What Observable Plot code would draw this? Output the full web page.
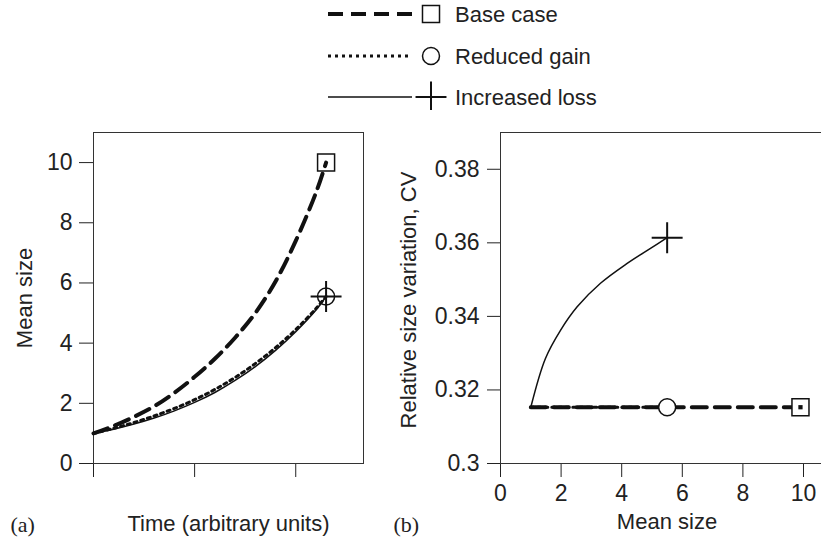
<!DOCTYPE html>
<html><head><meta charset="utf-8">
<script src="https://cdn.jsdelivr.net/npm/d3@7"></script>
<script src="https://cdn.jsdelivr.net/npm/@observablehq/plot@0.6"></script>
<style>
html,body{margin:0;padding:0;background:#fff;}
#wrap{position:relative;width:821px;height:547px;overflow:hidden;background:#fff;}
#wrap > *{position:absolute;}
</style></head><body><div id="wrap"></div>
<script>
// ---- data ----
const seriesNames = ["Base case", "Reduced gain", "Increased loss"];
const timeTicks = [0, 10, 20];
const time = [0, 2, 4, 6, 8, 10, 12, 14, 16, 18, 20, 22, 23];
const baseMean = [1.0, 1.25, 1.55, 1.9, 2.35, 2.88, 3.48, 4.18, 5.0, 6.05, 7.4, 9.0, 10.0];
const gainMean = [1.0, 1.17, 1.36, 1.58, 1.83, 2.12, 2.46, 2.86, 3.32, 3.85, 4.45, 5.15, 5.55];
const lossMean = [1.0, 1.14, 1.31, 1.51, 1.75, 2.03, 2.36, 2.76, 3.22, 3.76, 4.38, 5.1, 5.55];
const sizeTicks = [0, 2, 4, 6, 8, 10];

const baseCVMean = [1.0, 9.9];
const baseCV = [0.3153, 0.3153];
const gainCVMean = [1.0, 5.5];
const gainCV = [0.3153, 0.3153];
const lossCVMean = [1.0, 1.48, 1.98, 2.53, 3.3, 4.18, 4.95, 5.5];
const lossCV = [0.3153, 0.3285, 0.3362, 0.3426, 0.349, 0.3544, 0.3585, 0.3614];
const meanTicks = [0, 2, 4, 6, 8, 10];
const cvTicks = [0.3, 0.32, 0.34, 0.36, 0.38];
const cvTickLabels = ["0.3", "0.32", "0.34", "0.36", "0.38"];

// ---- tables ----
const baseT = time.map((t, i) => ({t, m: baseMean[i]}));
const gainT = time.map((t, i) => ({t, m: gainMean[i]}));
const lossT = time.map((t, i) => ({t, m: lossMean[i]}));
const baseC = baseCVMean.map((m, i) => ({m, cv: baseCV[i]}));
const gainC = gainCVMean.map((m, i) => ({m, cv: gainCV[i]}));
const lossC = lossCVMean.map((m, i) => ({m, cv: lossCV[i]}));

const ink = "#111";
const FONT = "'Liberation Sans', Arial, Helvetica, sans-serif";
const SERIF = "'Liberation Serif', 'Times New Roman', serif";
const baseStyle = {fontSize: "22px", fontFamily: FONT, color: "#222", background: "transparent", overflow: "visible"};
const dashed = {stroke: ink, strokeWidth: 4, strokeDasharray: "15,8"};
const dotted = {stroke: ink, strokeWidth: 3, strokeDasharray: "3,4"};
const solid = {stroke: ink, strokeWidth: 1.5};
const curve = "catmull-rom";

const wrap = document.getElementById("wrap");
const label = (txt, opts) => Plot.text([txt], {text: d => d, fontSize: 22, fontFamily: FONT, fill: "#222", ...opts});
function sizeTickLabels(svg) {
  d3.select(svg).selectAll("text")
    .filter(function() { return !this.closest('g[aria-label="text"]'); })
    .style("font-size", "23px").style("font-family", FONT);
}

// ---- panel (a) ----
const left = Plot.plot({
  width: 385, height: 437,
  marginLeft: 93, marginRight: 22, marginTop: 22, marginBottom: 84,
  style: baseStyle,
  x: {domain: [0, 26.7], ticks: timeTicks, tickSize: 14, tickFormat: () => "", label: null},
  y: {domain: [0, 11], ticks: sizeTicks, tickSize: 14, tickPadding: 7, label: null},
  marks: [
    Plot.frame({stroke: "#333"}),
    Plot.line(gainT, {x: "t", y: "m", curve, ...dotted}),
    Plot.line(lossT, {x: "t", y: "m", curve, ...solid}),
    Plot.line(baseT, {x: "t", y: "m", curve, ...dashed}),
    Plot.dot(baseT.slice(-1), {x: "t", y: "m", symbol: "square", r: 9.6, stroke: ink, strokeWidth: 1.5, fill: "none"}),
    Plot.dot(gainT.slice(-1), {x: "t", y: "m", symbol: "circle", r: 8.5, stroke: ink, strokeWidth: 1.5, fill: "none"}),
    Plot.dot(lossT.slice(-1), {x: "t", y: "m", symbol: "plus", r: 10, stroke: ink, strokeWidth: 2}),
    label("Mean size", {frameAnchor: "left", textAnchor: "middle", rotate: -90, dx: -69}),
    label("Time (arbitrary units)", {frameAnchor: "bottom", textAnchor: "middle", dy: 67}),
    label("(a)", {frameAnchor: "bottom-left", textAnchor: "start", dx: -83, dy: 68, fontFamily: SERIF})
  ]
});
sizeTickLabels(left);
left.style.left = "0px"; left.style.top = "110px";
wrap.appendChild(left);

// ---- panel (b) ----
const right = Plot.plot({
  width: 445, height: 437,
  marginLeft: 115, marginRight: 5, marginTop: 22, marginBottom: 84,
  style: baseStyle,
  x: {domain: [0, 10.726], ticks: meanTicks, tickSize: 14, tickPadding: 7, label: null},
  y: {domain: [0.3, 0.39], ticks: cvTicks, tickSize: 13, tickPadding: 8, tickFormat: d => cvTickLabels[cvTicks.indexOf(d)], label: null},
  marks: [
    Plot.frame({stroke: "#333"}),
    Plot.line(baseC, {x: "m", y: "cv", ...dashed}),
    Plot.line(gainC, {x: "m", y: "cv", ...dotted}),
    Plot.line(lossC, {x: "m", y: "cv", curve, ...solid}),
    Plot.dot(baseC.slice(-1), {x: "m", y: "cv", symbol: "square", r: 9.6, stroke: ink, strokeWidth: 1.5, fill: "white"}),
    Plot.dot(baseC.slice(-1), {x: "m", y: "cv", symbol: "square", r: 2.4, fill: ink}),
    Plot.dot(gainC.slice(-1), {x: "m", y: "cv", symbol: "circle", r: 8.5, stroke: ink, strokeWidth: 1.5, fill: "white"}),
    Plot.dot(lossC.slice(-1), {x: "m", y: "cv", symbol: "plus", r: 10, stroke: ink, strokeWidth: 2}),
    label("Relative size variation, CV", {frameAnchor: "left", textAnchor: "middle", rotate: -90, dx: -92, dy: 2}),
    label("Mean size", {frameAnchor: "bottom", textAnchor: "middle", dx: 4, dy: 65}),
    label("(b)", {frameAnchor: "bottom-left", textAnchor: "start", dx: -107, dy: 68, fontFamily: SERIF})
  ]
});
sizeTickLabels(right);
right.style.left = "385px"; right.style.top = "110px";
wrap.appendChild(right);

// ---- legend ----
const legendRows = [
  {name: seriesNames[0], style: dashed, symbol: d3.symbolSquare, r: 9.6, y: 14},
  {name: seriesNames[1], style: dotted, symbol: d3.symbolCircle, r: 8.5, y: 56},
  {name: seriesNames[2], style: solid, symbol: d3.symbolPlus, r: 10, y: 97}
];
const leg = d3.create("svg").attr("width", 821).attr("height", 110)
  .style("left", "0px").style("top", "0px");
const g = leg.selectAll("g").data(legendRows).join("g")
  .attr("transform", d => `translate(0,${d.y})`);
g.append("line").attr("x1", 328).attr("x2", 412).attr("y1", 0).attr("y2", 0)
  .attr("stroke", ink)
  .attr("stroke-width", d => d.style.strokeWidth)
  .attr("stroke-dasharray", d => d.style.strokeDasharray || null);
g.append("path")
  .attr("transform", "translate(431,0)")
  .attr("d", d => d3.symbol(d.symbol, Math.PI * d.r * d.r)())
  .attr("fill", "none").attr("stroke", ink)
  .attr("stroke-width", d => d.symbol === d3.symbolPlus ? 2 : 1.5);
g.append("text").attr("x", 455).attr("y", 0).attr("dy", "0.36em")
  .attr("font-family", FONT).attr("font-size", 22).attr("fill", "#222")
  .text(d => d.name);
wrap.appendChild(leg.node());
</script></body></html>
